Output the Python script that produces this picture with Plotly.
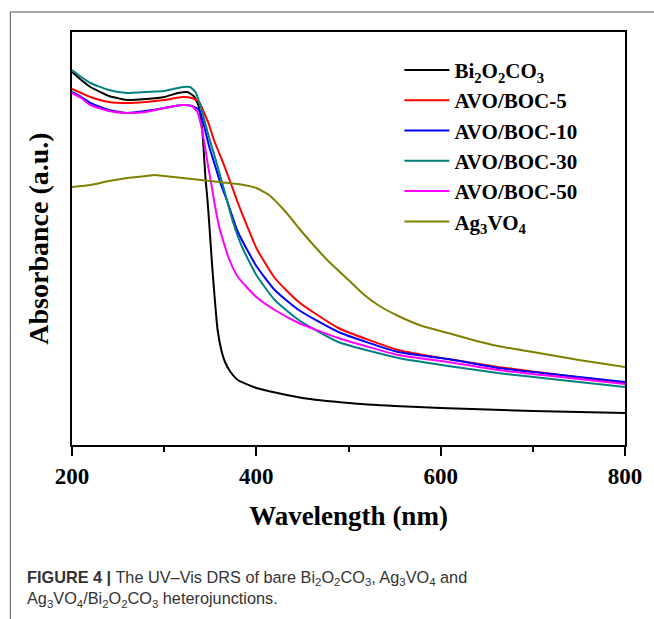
import plotly.graph_objects as go

# Wavelength (nm) and absorbance (a.u.) for each sample
nm_boc = [200,210,220,240,260,280,300,315,325,332,337,341,345,347,349,352,355,358,362,366,372,380,400,450,500,550,600,700,800]
abs_boc = [3.73,3.65,3.58,3.49,3.45,3.46,3.48,3.52,3.53,3.49,3.40,3.18,2.65,2.45,2.20,1.80,1.45,1.15,0.95,0.83,0.73,0.65,0.57,0.47,0.42,0.39,0.37,0.34,0.32]

nm_5 = [200,210,220,240,260,280,300,320,330,338,342,348,354,364,373,380,390,400,420,446,489,554,608,662,730,800]
abs_5 = [3.56,3.52,3.48,3.43,3.42,3.43,3.45,3.48,3.47,3.43,3.35,3.22,3.05,2.82,2.60,2.42,2.19,1.97,1.67,1.43,1.17,0.95,0.86,0.78,0.70,0.62]

nm_10 = [200,210,220,240,260,280,300,320,330,338,343,349,355,361,368,380,400,420,446,489,554,608,662,730,800]
abs_10 = [3.53,3.48,3.42,3.35,3.32,3.34,3.37,3.40,3.39,3.35,3.20,2.98,2.80,2.62,2.45,2.13,1.79,1.55,1.35,1.13,0.93,0.86,0.77,0.70,0.63]

nm_30 = [200,210,220,240,260,280,300,310,320,328,334,340,348,356,363,368,375,385,400,420,446,489,554,608,662,730,800]
abs_30 = [3.75,3.68,3.62,3.55,3.52,3.53,3.54,3.56,3.58,3.58,3.53,3.37,3.10,2.85,2.62,2.45,2.22,1.97,1.70,1.45,1.25,1.03,0.87,0.79,0.72,0.65,0.58]

nm_50 = [200,210,220,240,260,280,300,320,330,336,340,344,348,351,354,360,370,380,400,420,446,489,554,608,662,730,800]
abs_50 = [3.52,3.47,3.40,3.34,3.32,3.33,3.37,3.40,3.39,3.33,3.20,3.00,2.77,2.62,2.45,2.17,1.87,1.68,1.48,1.35,1.22,1.07,0.90,0.83,0.75,0.68,0.61]

nm_avo = [200,220,240,260,280,290,300,320,340,360,380,400,415,430,440,446,460,478,500,516,532,554,580,608,635,662,700,750,800]
abs_avo = [2.58,2.60,2.64,2.67,2.69,2.70,2.69,2.67,2.65,2.63,2.61,2.57,2.49,2.35,2.24,2.17,2.02,1.84,1.65,1.51,1.40,1.29,1.19,1.12,1.05,0.99,0.93,0.85,0.78]

series_names = ["Bi<sub>2</sub>O<sub>2</sub>CO<sub>3</sub>", "AVO/BOC-5", "AVO/BOC-10",
                "AVO/BOC-30", "AVO/BOC-50", "Ag<sub>3</sub>VO<sub>4</sub>"]
series_x = [nm_boc, nm_5, nm_10, nm_30, nm_50, nm_avo]
series_y = [abs_boc, abs_5, abs_10, abs_30, abs_50, abs_avo]
colors = ["#000000", "#ff0000", "#0000ff", "#008080", "#ff00ff", "#808000"]

x_ticks = [200, 400, 600, 800]

SERIF = "Liberation Serif, Times New Roman, serif"

fig = go.Figure()
for name, xs, ys, c in zip(series_names, series_x, series_y, colors):
    fig.add_trace(go.Scatter(x=xs, y=ys, mode="lines", name=name,
                             line=dict(color=c, width=2, shape="spline", smoothing=0.5)))

fig.update_layout(
    width=654, height=619,
    margin=dict(l=72, r=26, t=32, b=174),
    paper_bgcolor="white", plot_bgcolor="white",
    showlegend=True,
    legend=dict(x=0.592, y=0.957, xanchor="left", yanchor="top",
                font=dict(family=SERIF, size=21, color="black", weight="bold"),
                bgcolor="rgba(0,0,0,0)", tracegroupgap=0, itemwidth=45),
    xaxis=dict(range=[200, 800], tickvals=x_ticks, ticktext=[str(v) for v in x_ticks],
               showline=True, linecolor="black", linewidth=2, mirror=True,
               ticks="outside", ticklen=9, tickwidth=2, tickcolor="black",
               minor=dict(dtick=100, tick0=300, ticks="outside", ticklen=5, tickwidth=2, tickcolor="black"),
               showgrid=False, zeroline=False,
               tickfont=dict(family=SERIF, size=23, color="black", weight="bold"),
               title=dict(text="Wavelength (nm)", standoff=19,
                          font=dict(family=SERIF, size=27, color="black", weight="bold"))),
    yaxis=dict(range=[0, 4.13], showticklabels=False, ticks="",
               showline=True, linecolor="black", linewidth=2, mirror=True,
               showgrid=False, zeroline=False,
               title=dict(text="Absorbance (a.u.)", standoff=13,
                          font=dict(family=SERIF, size=28, color="black", weight="bold"))),
)

# outer figure frame (thin grey border)
fig.add_shape(type="line", xref="paper", yref="paper", x0=-0.1115, x1=-0.1115, y0=1.0484, y1=-0.45,
              line=dict(color="#555555", width=1))
fig.add_shape(type="line", xref="paper", yref="paper", x0=-0.1115, x1=1.06, y0=1.0484, y1=1.0484,
              line=dict(color="#555555", width=1))

fig.add_annotation(
    xref="paper", yref="paper", x=-0.0845, y=-0.293, xanchor="left", yanchor="top",
    align="left", showarrow=False,
    text=("<b>FIGURE 4 |</b> The UV–Vis DRS of bare Bi<sub>2</sub>O<sub>2</sub>CO<sub>3</sub>, "
          "Ag<sub>3</sub>VO<sub>4</sub> and<br>Ag<sub>3</sub>VO<sub>4</sub>/Bi<sub>2</sub>O<sub>2</sub>CO<sub>3</sub> heterojunctions."),
    font=dict(family="Liberation Sans, Arial, sans-serif", size=16.3, color="#333333"),
)

fig.write_html("out.html")
